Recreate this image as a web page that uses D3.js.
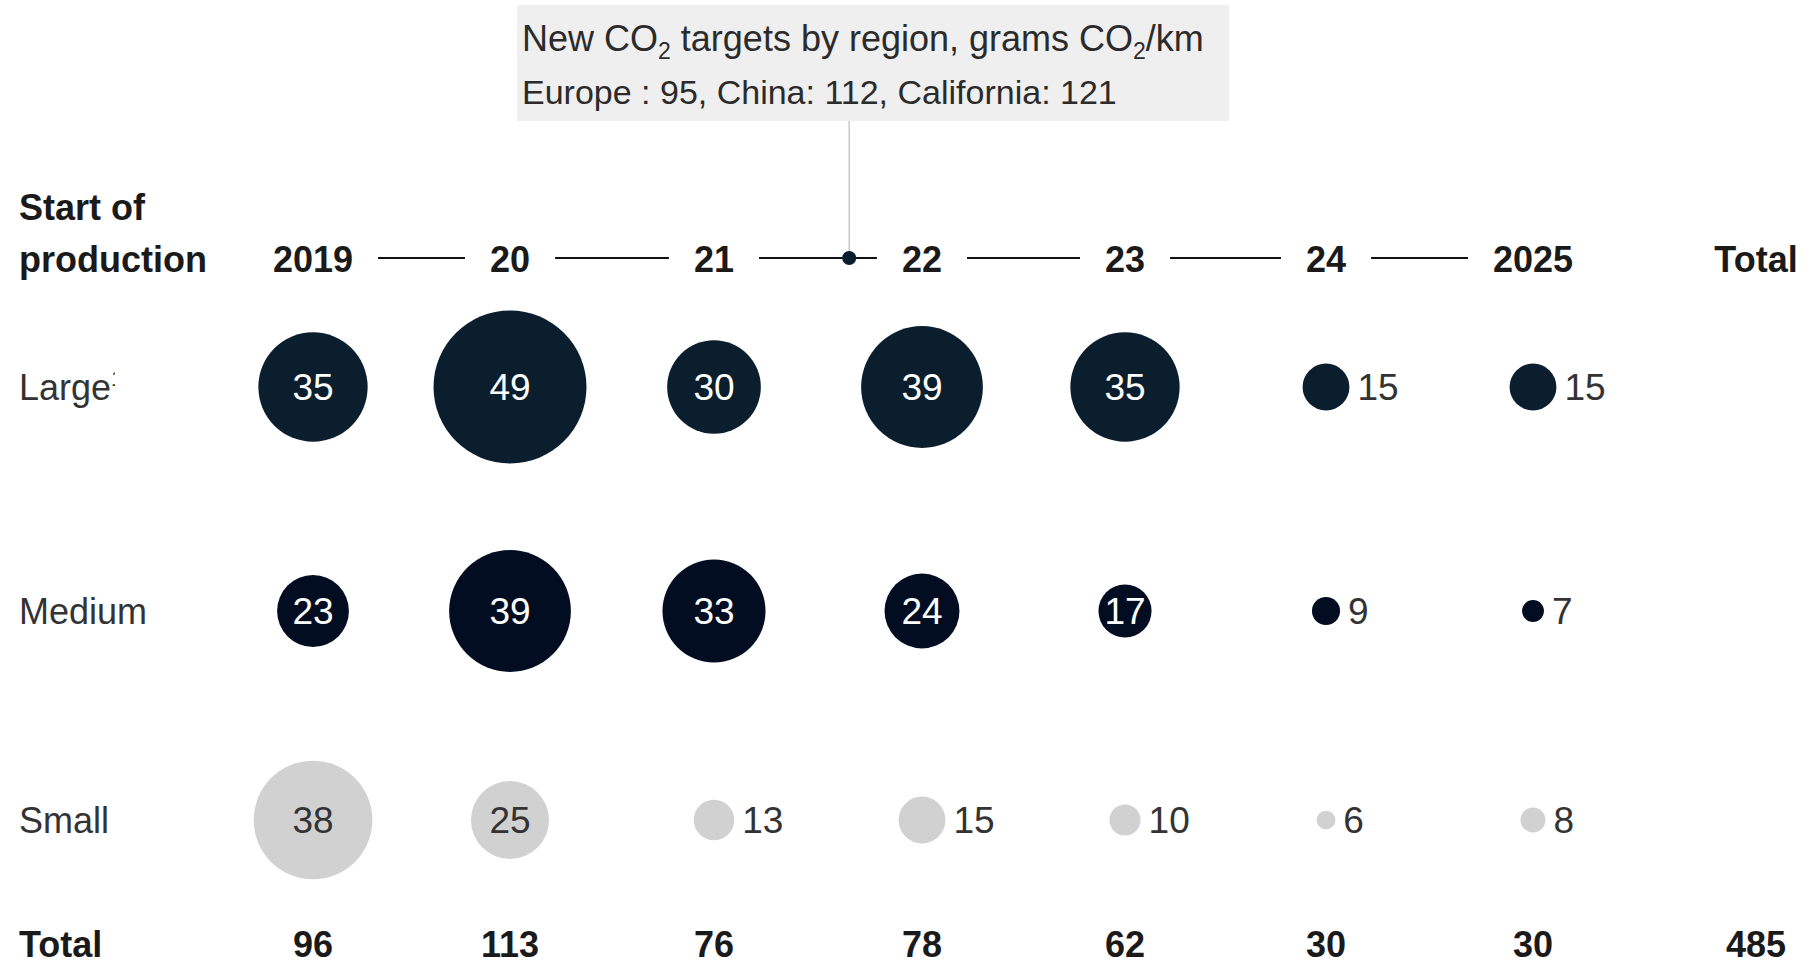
<!DOCTYPE html>
<html>
<head>
<meta charset="utf-8">
<script src="https://cdn.jsdelivr.net/npm/d3@7"></script>
<style>
  html, body { margin: 0; padding: 0; background: #fff; }
  svg { display: block; font-family: "Liberation Sans", Arial, Helvetica, sans-serif; }
</style>
</head>
<body>
<svg id="chart" width="1805" height="966"></svg>
<script>
// ---------------- data ----------------
const yearLabels = ["2019", "20", "21", "22", "23", "24", "2025"];
const years = [2019, 2020, 2021, 2022, 2023, 2024, 2025];
const sizeCategories = ["Large", "Medium", "Small"];
const largeValues  = [35, 49, 30, 39, 35, 15, 15];
const mediumValues = [23, 39, 33, 24, 17, 9, 7];
const smallValues  = [38, 25, 13, 15, 10, 6, 8];
const annotationYear = 2021.65;
const annotationLine2 = "Europe : 95, China: 112, California: 121";

// ---------------- layout ----------------
const W = 1805, H = 966;
const leftX = 19;
const headerLineY = 258, headerBaseline = 272;
const totalRowBaseline = 957;
const totalColX = 1756;
const insideThreshold = 17;
const columnCenters = [313, 510, 714, 922, 1125, 1326, 1533];

const svg = d3.select("#chart");

const x = d3.scaleLinear().domain(years).range(columnCenters);
const y = d3.scaleOrdinal().domain(sizeCategories).range([387, 611, 820]);
const r = d3.scaleLinear().domain([0, 49]).range([0, 76.5]);
const fill = d3.scaleOrdinal().domain(sizeCategories).range(["#0a1e2d", "#030d22", "#d1d1d1"]);
const insideText = d3.scaleOrdinal().domain(sizeCategories).range(["#ffffff", "#ffffff", "#333333"]);

const series = [
  { key: "Large", values: largeValues },
  { key: "Medium", values: mediumValues },
  { key: "Small", values: smallValues }
];
const totals = years.map((yr, i) => d3.sum(series, s => s.values[i]));
const grandTotal = d3.sum(totals);

// ---------------- annotation ----------------
const ax = x(annotationYear);
const box = { x: 517, y: 5, w: 712, h: 116 };
svg.append("rect")
  .attr("x", box.x).attr("y", box.y).attr("width", box.w).attr("height", box.h)
  .attr("fill", "#efefef");

const t1 = svg.append("text")
  .attr("x", box.x + 5).attr("y", 51)
  .attr("font-size", 36).attr("fill", "#2b2b2b");
t1.append("tspan").text("New CO");
t1.append("tspan").attr("font-size", 23).attr("dy", 8).text("2");
t1.append("tspan").attr("dy", -8).text(" targets by region, grams CO");
t1.append("tspan").attr("font-size", 23).attr("dy", 8).text("2");
t1.append("tspan").attr("dy", -8).text("/km");

svg.append("text")
  .attr("x", box.x + 5).attr("y", 104)
  .attr("font-size", 34).attr("fill", "#2b2b2b")
  .text(annotationLine2);

svg.append("line")
  .attr("x1", ax).attr("x2", ax)
  .attr("y1", box.y + box.h).attr("y2", headerLineY)
  .attr("stroke", "#c8c8c8").attr("stroke-width", 1.5);

// ---------------- header ----------------
const boldText = (sel) => sel.attr("font-weight", "bold").attr("font-size", 36).attr("fill", "#1a1a1a");

svg.append("text").attr("x", leftX).attr("y", 220).call(boldText).text("Start of");
svg.append("text").attr("x", leftX).attr("y", headerBaseline).call(boldText).text("production");

const yearText = svg.append("g").selectAll("text")
  .data(years)
  .join("text")
  .attr("x", d => x(d))
  .attr("y", headerBaseline)
  .attr("text-anchor", "middle")
  .call(boldText)
  .text((d, i) => yearLabels[i]);

// connecting lines between year labels
const boxes = yearText.nodes().map(n => n.getBBox());
const gap = 25;
const segs = d3.pairs(boxes).map(([a, b]) => ({ x1: a.x + a.width + gap, x2: b.x - gap }));
svg.append("g").selectAll("line")
  .data(segs)
  .join("line")
  .attr("x1", d => d.x1).attr("x2", d => d.x2)
  .attr("y1", headerLineY).attr("y2", headerLineY)
  .attr("stroke", "#111").attr("stroke-width", 2);

svg.append("circle")
  .attr("cx", ax).attr("cy", headerLineY).attr("r", 7)
  .attr("fill", "#0a1e2d");

svg.append("text").attr("x", totalColX).attr("y", headerBaseline)
  .attr("text-anchor", "middle").call(boldText).text("Total");

// ---------------- row labels ----------------
const defs = svg.append("defs");
sizeCategories.forEach((cat, i) => {
  const t = svg.append("text")
    .attr("x", leftX)
    .attr("y", y(cat) + 13)
    .attr("font-size", 36)
    .attr("fill", "#333")
    .text(cat);
  if (cat === "Large") {
    const w = t.node().getComputedTextLength();
    defs.append("clipPath").attr("id", "clipLarge")
      .append("rect").attr("x", 0).attr("y", 0).attr("width", leftX + w + 4).attr("height", H);
    t.attr("clip-path", "url(#clipLarge)");
    t.append("tspan").attr("font-size", 22).attr("dy", -14).text("1");
  }
});

// ---------------- bubbles ----------------
const rows = svg.append("g").selectAll("g")
  .data(series)
  .join("g");

const cells = rows.selectAll("g")
  .data(s => s.values.map((v, i) => ({ key: s.key, v, year: years[i] })))
  .join("g")
  .attr("transform", d => `translate(${x(d.year)},${y(d.key)})`);

cells.append("circle")
  .attr("r", d => r(d.v))
  .attr("fill", d => fill(d.key));

cells.append("text")
  .attr("x", d => d.v >= insideThreshold ? 0 : r(d.v) + 8)
  .attr("y", 13)
  .attr("text-anchor", d => d.v >= insideThreshold ? "middle" : "start")
  .attr("font-size", 37)
  .attr("fill", d => d.v >= insideThreshold ? insideText(d.key) : "#333")
  .text(d => d.v);

// ---------------- totals row ----------------
svg.append("text").attr("x", leftX).attr("y", totalRowBaseline).call(boldText).text("Total");
svg.append("g").selectAll("text")
  .data(totals)
  .join("text")
  .attr("x", (d, i) => x(years[i]))
  .attr("y", totalRowBaseline)
  .attr("text-anchor", "middle")
  .call(boldText)
  .text(d => d);
svg.append("text").attr("x", totalColX).attr("y", totalRowBaseline)
  .attr("text-anchor", "middle").call(boldText).text(grandTotal);
</script>
</body>
</html>
